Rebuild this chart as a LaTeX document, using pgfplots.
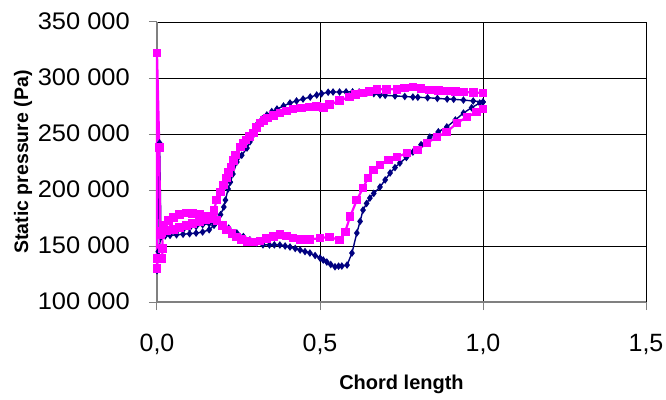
\documentclass[border=0pt]{standalone}
\usepackage{fontspec}
\setmainfont{Liberation Sans}
\newfontfamily\ytfont[FakeStretch=1.06]{Liberation Sans}
\usepackage{pgfplots}
\pgfplotsset{compat=1.18}
\definecolor{navyb}{RGB}{0,0,128}
\definecolor{magp}{RGB}{255,0,255}
\begin{document}
\begin{tikzpicture}
\useasboundingbox (-157pt,-97pt) rectangle (509pt,302pt);
\begin{axis}[
  at={(0pt,0pt)}, anchor=south west,
  width=489pt, height=280pt, scale only axis,
  xmin=0, xmax=1.5, ymin=100000, ymax=350000,
  scaled y ticks=false, scaled x ticks=false,
  xtick={0,0.5,1,1.5}, xticklabels={{0,0},{0,5},{1,0},{1,5}},
  ytick={100000,150000,200000,250000,300000,350000},
  yticklabels={100 000,150 000,200 000,250 000,300 000,350 000},
  grid=major, major grid style={black, line width=0.8pt},
  axis x line*=bottom, axis y line*=left,
  axis line style={-, gray, line width=1.2pt},
  tick align=outside, major tick length=8pt,
  tick style={gray, line width=1pt},
  yticklabel style={font=\ytfont\fontsize{24}{24}\selectfont, anchor=east, inner sep=0pt, xshift=-19pt, yshift=1pt},
  xticklabel style={font=\fontsize{25}{25}\selectfont, anchor=base, inner sep=0pt, yshift=-41pt},
  xlabel={\bfseries Chord length},
  ylabel={\bfseries Static pressure (Pa)},
  xlabel style={font=\fontsize{20}{20}\selectfont, at={(axis description cs:0.5,0)}, anchor=base, yshift=-87pt},
  ylabel style={font=\fontsize{19.5}{19.5}\selectfont, at={(axis description cs:-0.2638,0.5)}, anchor=base},
  clip=false,
]
\addplot[navyb, line width=1.4pt, mark=diamond*, mark size=2.7pt, mark options={solid, fill=navyb, draw=navyb}] coordinates {
(1.0,278600)(0.97,279500)(0.94,280300)(0.91,281000)(0.89,281200)(0.86,281800)(0.83,282400)(0.80,282800)(0.785,283000)(0.76,283500)(0.73,284000)(0.70,284500)(0.684,284800)(0.665,286000)(0.645,287000)(0.62,287500)(0.60,287600)(0.58,287600)(0.56,287500)(0.54,287500)(0.525,287300)(0.505,286000)(0.49,284800)(0.47,283000)(0.448,281200)(0.428,279500)(0.408,277700)(0.388,275000)(0.368,272300)(0.352,270000)(0.337,267000)(0.323,263500)(0.31,259800)(0.302,255000)(0.295,249100)(0.285,243000)(0.276,237500)(0.26,231000)(0.245,225000)(0.233,214300)(0.225,207000)(0.218,200900)(0.21,191000)(0.205,184800)(0.195,178000)(0.187,174100)(0.175,168500)(0.16,164500)(0.14,162500)(0.12,161500)(0.10,161000)(0.08,160500)(0.06,160000)(0.04,159500)(0.025,159000)(0.012,158000)(0.004,145000)(0.0,128000)(0.008,242000)(0.012,165000)
(0.02,160000)(0.04,161500)(0.06,163000)(0.08,164500)(0.10,166000)(0.12,167500)(0.14,169000)(0.16,170000)(0.18,170500)(0.20,169000)(0.22,166000)(0.245,161600)(0.265,158500)(0.285,155500)(0.305,152500)(0.325,151000)(0.345,150900)(0.36,151000)(0.377,150900)(0.393,150000)(0.408,149100)(0.424,147800)(0.439,146400)(0.454,145000)(0.469,143700)(0.485,141500)(0.5,139300)(0.51,137500)(0.521,135700)(0.533,133500)(0.546,131500)(0.557,132000)(0.567,132100)(0.583,133000)(0.598,143700)(0.613,161600)(0.623,172000)(0.632,182100)(0.643,188000)(0.653,192800)(0.665,197000)(0.684,202700)(0.70,209000)(0.715,215200)(0.73,220000)(0.745,224100)(0.765,229000)(0.785,233900)(0.81,240500)(0.837,247300)(0.863,252000)(0.889,256300)(0.915,262500)(0.94,268700)(0.965,273500)(0.99,277700)(1.0,278600)
};
\addplot[magp, line width=2.2pt, mark=square*, mark size=3.3pt, mark options={solid, fill=magp, draw=magp}] coordinates {
(1.0,286600)(0.97,287000)(0.94,287500)(0.915,288000)(0.889,288400)(0.863,289000)(0.837,289300)(0.81,290500)(0.785,292000)(0.76,291000)(0.736,290000)(0.705,290000)(0.675,290000)(0.65,288000)(0.63,286600)(0.61,285000)(0.59,283000)(0.56,280000)(0.53,276000)(0.51,274000)(0.49,274500)(0.469,274100)(0.443,273300)(0.417,272300)(0.397,270500)(0.377,268700)(0.358,266500)(0.34,264300)(0.328,262000)(0.316,259800)(0.305,255500)(0.295,250900)(0.283,247500)(0.273,244700)(0.264,241500)(0.255,238400)(0.242,231200)(0.234,226000)(0.227,220500)(0.22,215500)(0.214,210700)(0.205,204500)(0.196,198200)(0.183,191000)(0.175,182000)(0.17,175900)(0.15,174000)(0.13,172000)(0.11,170000)(0.09,168000)(0.07,166500)(0.05,165000)(0.03,163500)(0.015,162000)(0.018,148000)(0.015,139000)(0.002,138500)(0.0,130000)(0.0,322300)(0.007,238000)(0.01,160000)
(0.012,163000)(0.02,168000)(0.035,172500)(0.05,175500)(0.07,178000)(0.09,179500)(0.11,179300)(0.13,178000)(0.15,176000)(0.17,174500)(0.184,172500)(0.2,168500)(0.214,164300)(0.23,161000)(0.245,158000)(0.26,155800)(0.276,154000)(0.296,153600)(0.316,154500)(0.336,156500)(0.357,158500)(0.377,160500)(0.397,159000)(0.417,157100)(0.439,156000)(0.469,155800)(0.5,157100)(0.53,158000)(0.56,155300)(0.577,162500)(0.592,176000)(0.613,191000)(0.632,201800)(0.647,210700)(0.663,217900)(0.684,222300)(0.709,226800)(0.736,229500)(0.767,233000)(0.80,235700)(0.828,242000)(0.859,247300)(0.889,251800)(0.92,259800)(0.951,265200)(0.98,269600)(1.0,272300)
};
\end{axis}
\end{tikzpicture}
\end{document}
